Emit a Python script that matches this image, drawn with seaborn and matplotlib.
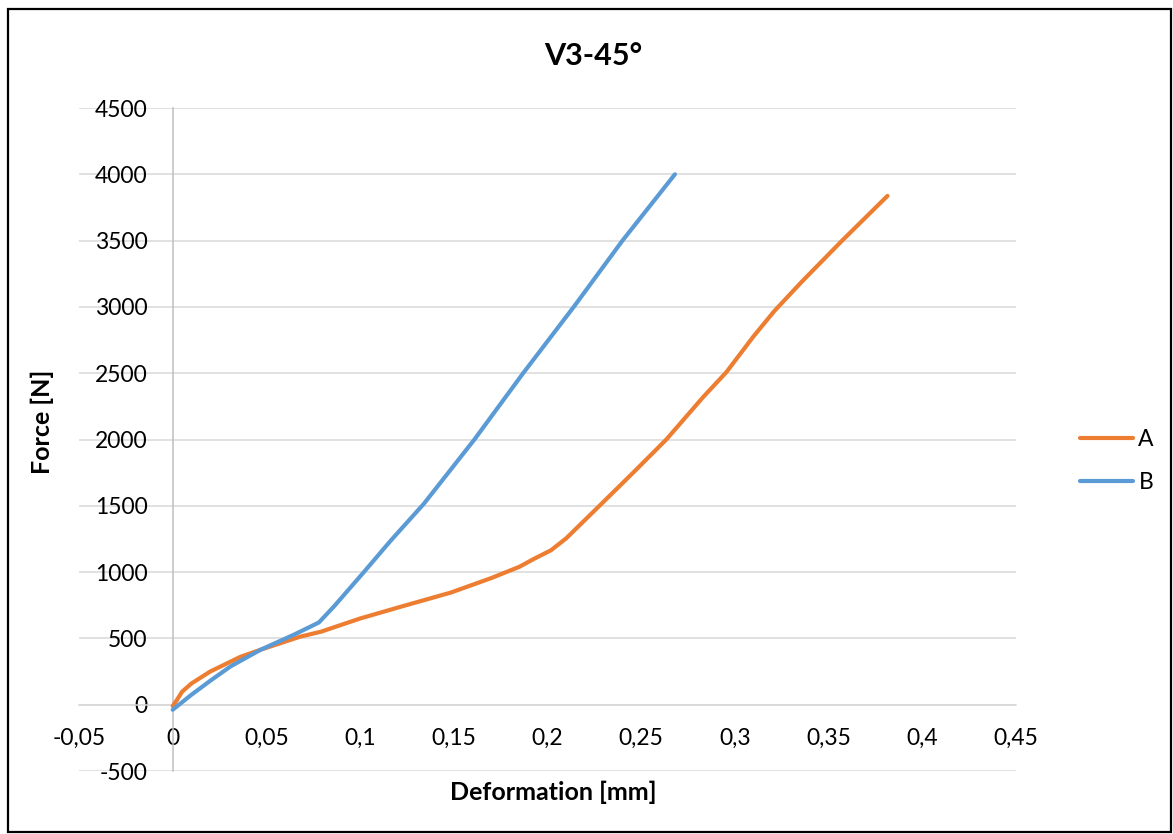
import matplotlib
matplotlib.use("Agg")
import matplotlib.pyplot as plt
from matplotlib.patches import Rectangle
from matplotlib.ticker import FuncFormatter, MultipleLocator
import numpy as np
import pandas as pd
import seaborn as sns

# Force-deformation curves, test V3-45°
deform_a = [0.0, 0.002, 0.005, 0.010, 0.020, 0.036, 0.047, 0.068, 0.079, 0.100,
            0.122, 0.1485, 0.170, 0.185, 0.1928, 0.2019, 0.210, 0.227, 0.245,
            0.2634, 0.283, 0.2954, 0.310, 0.321, 0.3355, 0.357, 0.3814]
force_a = [-10, 30, 98, 160, 250, 360, 415, 513, 550, 650,
           740, 846, 955, 1040, 1100, 1165, 1255, 1490, 1740,
           2000, 2319, 2507, 2779, 2968, 3187, 3497, 3837]

deform_b = [0.0, 0.010, 0.020, 0.031, 0.047, 0.065, 0.078, 0.086, 0.102, 0.1165,
            0.134, 0.161, 0.187, 0.214, 0.240, 0.268]
force_b = [-38, 75, 180, 290, 415, 530, 620, 740, 1000, 1240,
           1515, 2000, 2500, 3000, 3500, 4000]

series_names = ["A", "B"]
series_colors = ["#ED7D31", "#5B9BD5"]

title_text = "V3-45°"
x_label = "Deformation [mm]"
y_label = "Force [N]"

df = pd.concat([
    pd.DataFrame({"Deformation": deform_a, "Force": force_a, "Series": "A"}),
    pd.DataFrame({"Deformation": deform_b, "Force": force_b, "Series": "B"}),
], ignore_index=True)

sns.set_theme(style="white")
plt.rcParams["font.family"] = ["Lato", "DejaVu Sans"]
plt.rcParams["axes.unicode_minus"] = False
plt.rcParams["text.color"] = "black"

W, H = 1173, 834
fig = plt.figure(figsize=(W / 100, H / 100), dpi=100)
ax = fig.add_axes([79 / W, 1 - 771 / H, (1016 - 79) / W, (771 - 108) / H])

grid_color = "#D9D9D9"
for yv in np.arange(-500, 4501, 500):
    ax.axhline(yv, color=grid_color, lw=1.1, zorder=0)

sns.lineplot(data=df, x="Deformation", y="Force", hue="Series",
             hue_order=series_names, palette=series_colors,
             sort=False, estimator=None, lw=3.0, ax=ax, zorder=3,
             legend=True)
for ln in ax.lines:
    ln.set_solid_capstyle("round")
    ln.set_solid_joinstyle("round")

ax.set_xlim(-0.05, 0.45)
ax.set_ylim(-500, 4500)
ax.xaxis.set_major_locator(MultipleLocator(0.05))
ax.yaxis.set_major_locator(MultipleLocator(500))


def comma_fmt(v, _pos):
    s = f"{v:.2f}".rstrip("0").rstrip(".")
    if s in ("-0", ""):
        s = "0"
    return s.replace(".", ",")


ax.xaxis.set_major_formatter(FuncFormatter(comma_fmt))
ax.yaxis.set_major_formatter(FuncFormatter(lambda v, p: f"{int(round(v))}"))

# axes cross at the origin
ax.spines["left"].set_position(("data", 0))
ax.spines["bottom"].set_position(("data", 0))
ax.spines["left"].set_color("#BFBFBF")
ax.spines["left"].set_linewidth(1.1)
ax.spines["bottom"].set_color(grid_color)
ax.spines["bottom"].set_linewidth(1.1)
ax.spines["right"].set_visible(False)
ax.spines["top"].set_visible(False)
ax.tick_params(axis="both", length=0, labelsize=16.5, labelcolor="black")
ax.tick_params(axis="y", pad=18)
ax.tick_params(axis="x", pad=17)
ax.set_xlabel("")
ax.set_ylabel("")

fig.text(593 / W, 1 - 56 / H, title_text, ha="center", va="center",
         fontsize=22, fontweight="bold")
fig.text(553 / W, 1 - 792 / H, x_label, ha="center", va="center",
         fontsize=18, fontweight="bold")
fig.text(42 / W, 1 - 422 / H, y_label, ha="center", va="center",
         rotation=90, fontsize=18, fontweight="bold")

handles, labels = ax.get_legend_handles_labels()
ax.legend_.remove()
for h in handles:
    h.set_linewidth(3.0)
fig.legend(handles, labels, loc="center left",
           bbox_to_anchor=(1080 / W, 1 - 461 / H),
           frameon=False, fontsize=16.5, handlelength=2.3,
           handletextpad=0.25, labelspacing=1.0,
           borderpad=0, borderaxespad=0)

# chart-area frame
frame = Rectangle((8 / W, 1 - 832 / H), (1171 - 8) / W, (832 - 9) / H,
                  transform=fig.transFigure, fill=False,
                  edgecolor="black", lw=1.6)
fig.patches.append(frame)

fig.savefig("out.png", dpi=100)
